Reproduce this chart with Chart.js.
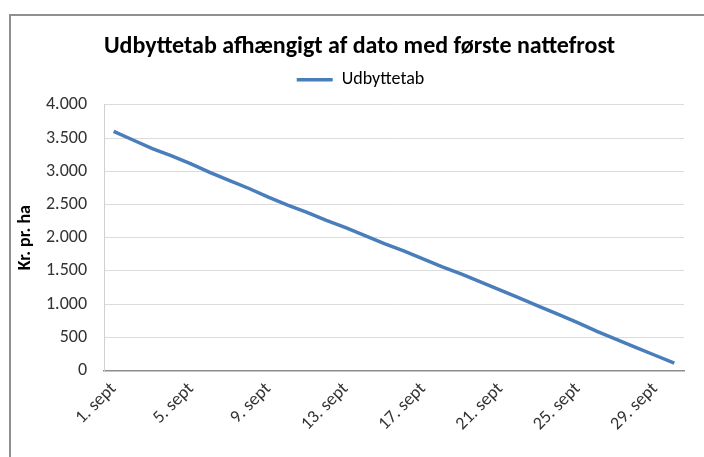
<!DOCTYPE html>
<html><head><meta charset="utf-8">
<script src="https://cdn.jsdelivr.net/npm/chart.js@4"></script>
<style>
html,body{margin:0;padding:0;background:#fff;width:704px;height:457px;overflow:hidden}
#frame{position:absolute;left:9px;top:14px;width:720px;height:470px;border:2px solid #8f8f8f;box-sizing:border-box}
canvas{position:absolute;left:0;top:0}
</style></head><body>
<div id="frame"></div>
<canvas id="c" width="704" height="457"></canvas>
<script>
const categories = ["1. sept","2. sept","3. sept","4. sept","5. sept","6. sept","7. sept","8. sept","9. sept","10. sept","11. sept","12. sept","13. sept","14. sept","15. sept","16. sept","17. sept","18. sept","19. sept","20. sept","21. sept","22. sept","23. sept","24. sept","25. sept","26. sept","27. sept","28. sept","29. sept","30. sept"];
const udbyttetab = [3600,3470,3340,3230,3110,2980,2860,2740,2610,2490,2380,2260,2150,2030,1910,1800,1680,1560,1450,1330,1210,1090,965,845,720,590,470,350,230,110];
const yTicks = [0,500,1000,1500,2000,2500,3000,3500,4000];

const FONT = 'Carlito, Lato, "Open Sans", sans-serif';
const shiftPlugin = {
  id: 'shiftHeader',
  afterLayout(chart) {
    const t = chart.titleBlock, l = chart.legend;
    if (t) { t.left += 10; t.right += 10; }
    if (l) { l.left += 11; l.right += 11; l.top -= 6; l.bottom -= 6; }
  }
};
new Chart(document.getElementById('c'), {
  type: 'line',
  data: { labels: categories, datasets: [{
    label: 'Udbyttetab', data: udbyttetab,
    borderColor: '#4a7ebb', backgroundColor: '#4a7ebb',
    borderWidth: 3.5, pointRadius: 0, tension: 0, fill: false
  }]},
  plugins: [shiftPlugin],
  options: {
    responsive: false, animation: false,
    layout: { padding: { left: 15, right: 20, top: 33, bottom: 14 } },
    plugins: {
      title: { display: true, text: 'Udbyttetab afhængigt af dato med første nattefrost',
        font: { family: FONT, size: 24, weight: 'bold' }, color: '#000', padding: { top: 0, bottom: 6 } },
      legend: { display: true, position: 'top',
        labels: { font: { family: FONT, size: 18 }, color: '#222', boxWidth: 36, boxHeight: 0, padding: 9,
          generateLabels: (ch) => [{ text: 'Udbyttetab', strokeStyle: '#4a7ebb', fillStyle: '#4a7ebb', lineWidth: 3.5, datasetIndex: 0 }] } },
      tooltip: { enabled: false }
    },
    scales: {
      x: {
        offset: true,
        afterFit: (ax) => { ax.paddingLeft = 0; ax.paddingRight = 0; },
        grid: { display: false, drawTicks: false, offset: true },
        border: { display: true, color: '#8c8c8c', width: 1.5 },
        ticks: { autoSkip: false, maxRotation: 45, minRotation: 45, padding: 8,
          font: { family: FONT, size: 18 }, color: '#333',
          callback: function(v, i) { return i % 4 === 0 ? categories[i] : ''; } }
      },
      y: {
        min: 0, max: 4000,
        afterBuildTicks: (ax) => { ax.ticks = yTicks.map(v => ({ value: v })); },
        afterFit: (ax) => { ax.width = 89; },
        grid: { color: '#dcdcdc', lineWidth: 1, drawTicks: false },
        border: { display: true, color: '#d0d0d0' },
        ticks: { padding: 17, font: { family: FONT, size: 18 }, color: '#333',
          callback: (v) => v.toLocaleString('da-DK') },
        title: { display: true, text: 'Kr. pr. ha', font: { family: FONT, size: 18, weight: 'bold' }, color: '#000', padding: { top: 0, bottom: 8 } }
      }
    }
  }
});
</script>
</body></html>
